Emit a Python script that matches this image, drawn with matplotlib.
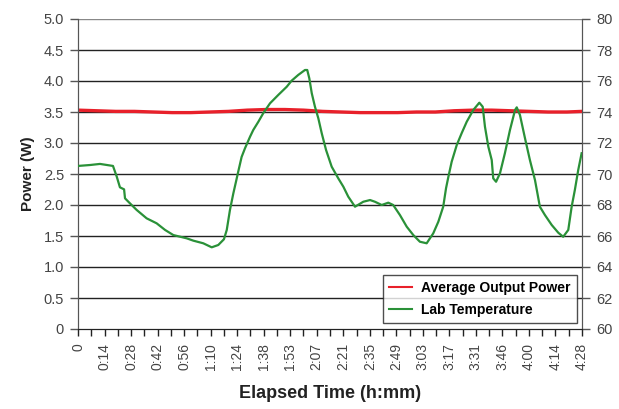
import matplotlib
matplotlib.use("Agg")
import matplotlib.pyplot as plt
import numpy as np

plt.rcParams['font.family'] = ['Liberation Sans', 'DejaVu Sans']

# ---- data ----
tick_labels = ["0", "0:14", "0:28", "0:42", "0:56", "1:10", "1:24", "1:38", "1:53",
               "2:07", "2:21", "2:35", "2:49", "3:03", "3:17", "3:31", "3:46",
               "4:00", "4:14", "4:28"]
total_minutes = 268

power_t = [0, 10, 20, 30, 40, 50, 60, 70, 80, 90, 100, 110, 120, 130, 140, 150,
           160, 170, 180, 190, 200, 210, 220, 230, 240, 250, 260, 268]
power_w = [3.53, 3.52, 3.51, 3.51, 3.50, 3.49, 3.49, 3.50, 3.51, 3.53, 3.54, 3.54,
           3.53, 3.51, 3.50, 3.49, 3.49, 3.49, 3.50, 3.50, 3.52, 3.53, 3.53, 3.52,
           3.51, 3.50, 3.50, 3.51]

temp_t = [0, 6.4, 11.7, 18.6, 20.6, 22.3, 24.5, 25.0, 27.6, 31.2, 36.5, 41.8, 46.3,
          50.7, 57.8, 61.3, 66.6, 71.1, 74.6, 77.6, 79.1, 80.8, 82.6, 84.0, 85.2,
          87.0, 88.8, 91.5, 93.2, 95.9, 98.5, 102.1, 106.5, 111.0, 113.6, 117.1,
          120.7, 121.9, 123.0, 124.3, 126.0, 127.8, 129.6, 131.9, 134.9, 138.4,
          141.1, 143.7, 147.3, 151.7, 155.3, 157.9, 161.5, 165.0, 167.6, 171.2,
          174.8, 178.3, 181.8, 185.4, 188.9, 191.6, 194.2, 195.7, 196.9, 198.7,
          201.4, 204.0, 206.7, 210.2, 213.4, 215.2, 216.4, 218.2, 220.0, 220.8,
          222.3, 224.4, 227.0, 229.7, 232.4, 233.3, 235.0, 237.7, 240.3, 243.0,
          245.6, 248.3, 251.9, 255.4, 258.0, 260.7, 262.5, 264.2, 266.0, 267.8]
temp_f = [70.52, 70.58, 70.65, 70.52, 69.83, 69.14, 69.01, 68.43, 68.11, 67.68,
          67.14, 66.82, 66.39, 66.06, 65.85, 65.70, 65.53, 65.27, 65.42, 65.79,
          66.39, 67.68, 68.75, 69.50, 70.15, 71.10, 71.66, 72.41, 72.84, 73.37,
          73.92, 74.56, 75.10, 75.63, 76.02, 76.39, 76.71, 76.71, 76.17, 75.21,
          74.34, 73.59, 72.63, 71.55, 70.47, 69.72, 69.18, 68.54, 67.89, 68.21,
          68.32, 68.21, 68.00, 68.15, 68.00, 67.35, 66.60, 66.06, 65.63, 65.53,
          66.17, 66.92, 67.89, 69.08, 69.79, 70.79, 71.87, 72.63, 73.37, 74.13,
          74.60, 74.34, 73.05, 71.76, 70.90, 69.72, 69.50, 70.05, 71.34, 72.84,
          74.13, 74.30, 73.81, 72.30, 70.90, 69.61, 67.89, 67.35, 66.71, 66.21,
          65.95, 66.39, 67.89, 68.97, 70.26, 71.34]

# ---- figure ----
W, H = 619, 409
fig = plt.figure(figsize=(W / 100, H / 100), dpi=100)
L, R, T, B = 78, 582, 19, 329
ax = fig.add_axes([L / W, 1 - B / H, (R - L) / W, (B - T) / H])
ax2 = ax.twinx()

tick_col = '#444444'
axis_col = '#555555'

ax.set_xlim(0, total_minutes)
ax.set_ylim(0, 5)
ax2.set_ylim(60, 80)

# grid
for v in np.arange(0.5, 5.01, 0.5):
    ax.axhline(v, color='#888888' if v == 5.0 else '#222222', lw=1.0, zorder=1)

ax.plot(power_t, power_w, color='#e8202a', lw=2.4, zorder=3,
        label='Average Output Power')
ax2.plot(temp_t, temp_f, color='#2a9138', lw=1.6, zorder=3,
         label='Lab Temperature')

# ticks
major = np.linspace(0, total_minutes, len(tick_labels))
minor = (major[:-1] + major[1:]) / 2
ax.set_xticks(major)
ax.set_xticklabels(tick_labels, rotation=90, fontsize=10, color=tick_col)
ax.set_xticks(minor, minor=True)
ax.tick_params(axis='x', which='both', direction='out', length=5, width=1,
               color='#222222', pad=5)

ax.set_yticks(np.arange(0, 5.01, 0.5))
ax.set_yticklabels(['0'] + [f'{v:.1f}' for v in np.arange(0.5, 5.01, 0.5)],
                   fontsize=10.5, color=tick_col)
ax.tick_params(axis='y', direction='out', length=6, width=1, color=axis_col, pad=4)

ax2.set_yticks(np.arange(60, 81, 2))
ax2.set_yticklabels([str(v) for v in range(60, 81, 2)], fontsize=10.5, color=tick_col)
ax2.tick_params(axis='y', direction='out', length=6, width=1, color=axis_col, pad=4)

for a in (ax, ax2):
    a.spines['top'].set_visible(False)
    a.spines['left'].set_color(axis_col)
    a.spines['right'].set_color(axis_col)
    a.spines['bottom'].set_color('#222222')

ax.set_ylabel('Power (W)', fontsize=11, fontweight='bold', color='#222222', labelpad=6)
ax.set_xlabel('Elapsed Time (h:mm)', fontsize=13, fontweight='bold', color='#222222',
              labelpad=11)

h1, l1 = ax.get_legend_handles_labels()
h2, l2 = ax2.get_legend_handles_labels()
leg = ax2.legend(h1 + h2, l1 + l2, loc='lower right',
                 bbox_to_anchor=(577 / W, 1 - 323 / H), bbox_transform=fig.transFigure,
                 borderaxespad=0,
                 frameon=True, fancybox=False, edgecolor='#222222',
                 prop={'weight': 'bold', 'size': 10}, handlelength=1.6,
                 handletextpad=0.7, borderpad=0.45, labelspacing=0.55)
leg.get_frame().set_linewidth(1.0)
for line in leg.get_lines():
    line.set_linewidth(1.5)

fig.savefig('out.png', dpi=100)
